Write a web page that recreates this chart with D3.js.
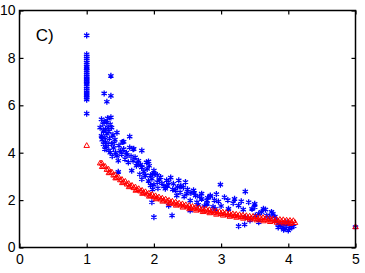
<!DOCTYPE html>
<html>
<head>
<meta charset="utf-8">
<script src="https://cdn.jsdelivr.net/npm/d3@7"></script>
<style>
  body { margin: 0; background: #fff; }
  svg { display: block; }
  .tick text { font-family: "Liberation Sans", Arial, sans-serif; font-size: 14px; fill: #000; }
</style>
</head>
<body>
<div id="chart"></div>
<script>
'use strict';

// tick values
var xTicks = [0, 1, 2, 3, 4, 5];
var yTicks = [0, 2, 4, 6, 8, 10];

// blue asterisks (measured), [x, y]
var bluePts = [
  [1,8.95],[1,8.15],[1,8.07],[1,7.98],[1,7.9],[1,7.8],[1,7.72],[1,7.62],[1,7.55],[1,7.46],
  [1,7.38],[1,7.3],[1,7.22],[1,7.15],[1,7.08],[1,7.02],[1,6.96],[1,6.9],[1,6.8],[1,6.72],
  [1,6.64],[1,6.56],[1,6.48],[1,6.4],[1,6.32],[1,6.24],[1,5.65],
  [1.36,7.24],[1.26,6.5],[1.36,6.4],[1.30,6.15],[1.36,5.49],[1.22,5.41],[1.30,5.27],[1.20,5.06],
  [1.25,4.92],[1.32,5.06],[1.37,5.06],[1.22,4.71],[1.27,4.64],[1.45,4.85],[1.64,4.68],[1.55,4.46],
  [1.25,4.36],[1.32,4.36],[1.37,4.36],[1.27,4.15],[1.35,4.0],[1.50,4.08],[1.45,3.87],[1.52,3.94],
  [1.59,4.0],[1.64,4.22],[1.69,4.15],[1.47,3.66],[1.57,3.73],[1.62,3.59],[1.69,3.66],[1.77,3.66],
  [1.74,3.45],[1.82,3.38],[1.89,3.59],[1.47,3.19],[1.67,3.24],[1.79,3.09],[1.87,3.03],[1.92,2.81],
  [1.82,2.88],[1.24,5.2],[1.28,5.0],[1.23,4.55],[1.3,4.8],[1.34,4.6],[1.28,4.45],[1.33,4.9],
  [1.26,5.32],[1.29,4.25],[1.4,4.2],[1.42,4.55],[1.33,4.1],[1.38,3.85],[1.43,4.0],[1.53,4.45],
  [1.70,4.16],
  [1.31,5.45],[1.35,5.2],[1.39,4.75],[1.41,4.4],[1.48,4.3],[1.55,4.15],[1.6,3.9],[1.66,3.85],
  [1.72,3.8],[1.75,3.55],[1.8,3.5],[1.85,3.2],[1.93,3.45],[1.98,3.1],
  [1.82,4.09],[1.92,3.63],[1.82,3.39],[1.90,3.32],[2.0,3.25],[1.87,3.04],[1.95,3.04],[2.02,3.11],
  [1.97,2.9],[2.10,2.97],[2.05,2.76],[1.95,2.62],[2.17,2.48],[2.19,2.83],[2.29,2.69],[2.37,2.83],
  [2.32,2.41],[2.39,2.33],[2.44,2.54],[2.49,2.27],[2.34,2.19],[2.59,2.41],[2.62,2.19],[2.71,2.27],
  [2.71,2.05],[2.79,1.98],[2.84,2.19],[2.54,1.98],[2.64,1.91],[1.97,1.91],[2.22,1.77],[2.0,1.28],
  [2.27,1.35],[2.54,1.56],[2.22,2.76],[2.47,2.76],
  [2.05,3.05],[2.12,2.7],[2.25,2.95],[2.15,2.58],[2.4,2.6],[2.28,2.45],[2.55,2.3],[2.45,2.15],
  [2.06,2.5],[2.0,2.65],[1.98,2.45],
  [2.08,2.85],[2.2,2.6],[2.35,2.55],[2.5,2.45],[2.6,2.3],[2.68,2.15],[2.8,2.1],[2.93,2.25],
  [2.99,2.65],[3.36,2.36],[2.84,2.16],[3.05,2.12],[2.96,1.94],[3.18,1.87],[3.26,1.77],[3.41,1.91],
  [3.50,1.84],[3.46,1.63],[3.33,1.60],[3.11,1.63],[2.91,1.63],[2.79,1.84],[3.56,1.42],[3.63,1.63],
  [3.51,1.35],[3.36,1.28],[3.43,1.14],[3.26,0.90],[3.35,0.97],[3.56,1.07],
  [3.5,1.7],[3.66,1.6],[3.68,1.35],[2.66,1.8],[2.75,1.75],[2.88,1.72],[3.0,1.75],[2.9,2.0],
  [3.1,2.0],[3.2,2.05],[3.3,1.95],[3.6,1.5],[3.75,1.5],[3.8,1.3],
  [3.72,1.28],[3.85,1.0],[3.90,0.86],[3.95,0.79],[4.0,0.72],[4.05,0.86],[3.92,1.0],[3.82,1.14],
  [3.77,1.42],[4.0,1.0],[3.88,0.92],[3.97,0.9],[4.02,0.8],[3.93,0.75],[3.85,0.85],[3.98,1.05],
  [4.08,0.9],[5,0.86]
];

// red triangles (measured), [x, y]
var redPts = [
  [1.0,4.29],[5.0,0.86],
  [1.20,3.55],[1.25,3.41],[1.30,3.28],[1.35,3.16],[1.40,3.04],[1.45,2.94],[1.50,2.84],[1.55,2.75],
  [1.60,2.66],[1.65,2.58],[1.70,2.51],[1.75,2.43],[1.80,2.37],[1.85,2.30],[1.90,2.24],[1.95,2.18],
  [2.00,2.13],[2.05,2.08],[2.10,2.03],[2.15,1.98],[2.20,1.94],[2.25,1.89],[2.30,1.85],[2.35,1.81],
  [2.40,1.78],[2.45,1.74],[2.50,1.70],[2.55,1.67],[2.60,1.64],[2.65,1.61],[2.70,1.58],[2.75,1.55],
  [2.80,1.52],[2.85,1.49],[2.90,1.47],[2.95,1.44],[3.00,1.42],[3.05,1.40],[3.10,1.37],[3.15,1.35],
  [3.20,1.33],[3.25,1.31],[3.30,1.29],[3.35,1.27],[3.40,1.25],[3.45,1.23],[3.50,1.22],[3.55,1.20],
  [3.60,1.18],[3.65,1.17],[3.70,1.15],[3.75,1.14],[3.80,1.12],[3.85,1.11],[3.90,1.09],[3.95,1.08],
  [4.00,1.07],[4.05,1.05],[4.10,1.04],
  [1.225,3.55],[1.275,3.41],[1.325,3.29],[1.375,3.17],[1.425,3.06],[1.475,2.96],[1.525,2.86],[1.575,2.78],
  [1.625,2.69],[1.675,2.61],[1.725,2.54],[1.775,2.47],[1.825,2.40],[1.875,2.34],[1.925,2.28],[1.975,2.23],
  [2.025,2.17],[2.075,2.12],[2.125,2.07],[2.175,2.03],[2.225,1.98],[2.275,1.94],[2.325,1.90],[2.375,1.86],
  [2.425,1.83],[2.475,1.79],[2.525,1.76],[2.575,1.72],[2.625,1.69],[2.675,1.66],[2.725,1.63],[2.775,1.61],
  [2.825,1.58],[2.875,1.55],[2.925,1.53],[2.975,1.50],[3.025,1.48],[3.075,1.46],[3.125,1.43],[3.175,1.41],
  [3.225,1.39],[3.275,1.37],[3.325,1.35],[3.375,1.33],[3.425,1.31],[3.475,1.30],[3.525,1.28],[3.575,1.26],
  [3.625,1.25],[3.675,1.23],[3.725,1.21],[3.775,1.20],[3.825,1.18],[3.875,1.17],[3.925,1.16],[3.975,1.14],
  [4.025,1.13],[4.075,1.12],
  [1.23,3.40],[1.33,3.14],[1.43,2.92],[1.53,2.72],[1.63,2.55],[1.73,2.40],[1.83,2.27],[1.93,2.15],
  [2.03,2.04],[2.13,1.94],[2.23,1.85],[2.33,1.77],[2.43,1.69],[2.53,1.62],[2.63,1.56],[2.73,1.50],
  [2.83,1.45],[2.93,1.39],[3.03,1.35],[3.13,1.30],[3.23,1.26],[3.33,1.22],[3.43,1.18],[3.53,1.15],
  [3.63,1.11],[3.73,1.08],[3.83,1.05],[3.93,1.02],[4.03,1.00]
];

var W = 365, H = 273;

var x = d3.scaleLinear().domain([0, 5]).range([19.5, 355.5]);
var y = d3.scaleLinear().domain([0, 10]).range([247.5, 10.5]);

var svg = d3.select("#chart").append("svg")
    .attr("width", W)
    .attr("height", H);

// blue asterisks
var star = d3.symbol().type(d3.symbolAsterisk).size(26);
svg.append("g")
  .selectAll("path")
  .data(bluePts)
  .enter().append("path")
    .attr("d", star)
    .attr("transform", function(d){ return "translate(" + x(d[0]) + "," + y(d[1]) + ")"; })
    .attr("fill", "none")
    .attr("stroke", "#0000ff")
    .attr("stroke-width", 1.3);

// red triangles
var tri = d3.symbol().type(d3.symbolTriangle2).size(22);
svg.append("g")
  .selectAll("path")
  .data(redPts)
  .enter().append("path")
    .attr("d", tri)
    .attr("transform", function(d){ return "translate(" + x(d[0]) + "," + y(d[1]) + ")"; })
    .attr("fill", "none")
    .attr("stroke", "#ff0000")
    .attr("stroke-width", 1);

// axes, ticks pointing inward
function styleAxis(g){
  g.select(".domain").remove();
  g.selectAll(".tick line").attr("stroke", "#000").attr("stroke-width", 1.2);
}
svg.append("g")
  .attr("transform", "translate(0," + y(0) + ")")
  .call(d3.axisBottom(x).tickValues(xTicks).tickFormat(d3.format("d")).tickSizeInner(-4).tickSizeOuter(0).tickPadding(7))
  .call(styleAxis);
svg.append("g")
  .attr("transform", "translate(0," + y(10) + ")")
  .call(d3.axisTop(x).tickValues(xTicks).tickFormat("").tickSizeInner(-4).tickSizeOuter(0))
  .call(styleAxis);
svg.append("g")
  .attr("transform", "translate(" + x(0) + ",0)")
  .call(d3.axisLeft(y).tickValues(yTicks).tickFormat(d3.format("d")).tickSizeInner(-4).tickSizeOuter(0).tickPadding(4))
  .call(styleAxis);
svg.append("g")
  .attr("transform", "translate(" + x(5) + ",0)")
  .call(d3.axisRight(y).tickValues(yTicks).tickFormat("").tickSizeInner(-4).tickSizeOuter(0))
  .call(styleAxis);

// frame
svg.append("rect")
  .attr("x", x(0))
  .attr("y", y(10))
  .attr("width", x(5) - x(0))
  .attr("height", y(0) - y(10))
  .attr("fill", "none")
  .attr("stroke", "#000")
  .attr("stroke-width", 1.5);

// panel label
svg.append("text")
  .attr("x", x(0.24))
  .attr("y", y(8.72))
  .attr("font-family", "Liberation Sans, Arial, sans-serif")
  .attr("font-size", 17)
  .text("C)");
</script>
</body>
</html>
